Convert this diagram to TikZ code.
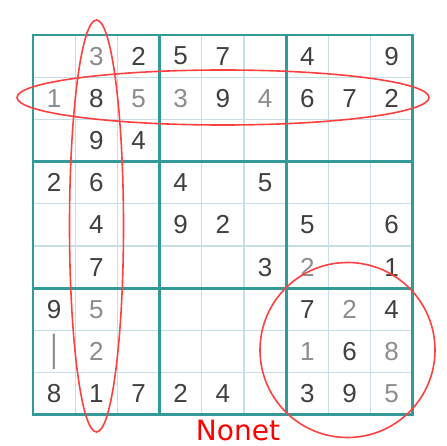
\documentclass[tikz,border=0pt]{standalone}
\usepackage{fontspec}
\setmainfont{Liberation Sans}
\newfontfamily\nonetfont{DejaVu Sans}
\begin{document}
\begin{tikzpicture}[x=1pt,y=-1pt,
  thinline/.style={draw=cyan!25!teal!25, line width=1.3pt},
  thickline/.style={draw=teal!80!white, line width=2.8pt},
  dk/.style={text=black!75, font=\fontsize{26}{26}\selectfont, inner sep=0pt},
  lt/.style={text=black!45, font=\fontsize{26}{26}\selectfont, inner sep=0pt},
  redmark/.style={draw=red!75!white, line width=1.6pt}]
\useasboundingbox (0,0) rectangle (446,446);
\def\xo{33}\def\yo{35}\def\cs{42.2}
% thin lines
\foreach \i in {1,2,4,5,7,8}{
  \draw[thinline] (\xo+\i*\cs,\yo) -- (\xo+\i*\cs,\yo+9*\cs);
  \draw[thinline] (\xo,\yo+\i*\cs) -- (\xo+9*\cs,\yo+\i*\cs);
}
% thick lines
\foreach \i in {0,3,6,9}{
  \draw[thickline] (\xo+\i*\cs,\yo-1.4) -- (\xo+\i*\cs,\yo+9*\cs+1.4);
  \draw[thickline] (\xo-1.4,\yo+\i*\cs) -- (\xo+9*\cs+1.4,\yo+\i*\cs);
}
% digits: style/row/col/value
\foreach \s/\r/\c/\v in {
  lt/1/2/3, dk/1/3/2, dk/1/4/5, dk/1/5/7, dk/1/7/4, dk/1/9/9,
  lt/2/1/1, dk/2/2/8, lt/2/3/5, lt/2/4/3, dk/2/5/9, lt/2/6/4, dk/2/7/6, dk/2/8/7, dk/2/9/2,
  dk/3/2/9, dk/3/3/4,
  dk/4/1/2, dk/4/2/6, dk/4/4/4, dk/4/6/5,
  dk/5/2/4, dk/5/4/9, dk/5/5/2, dk/5/7/5, dk/5/9/6,
  dk/6/2/7, dk/6/6/3, lt/6/7/2, dk/6/9/1,
  dk/7/1/9, lt/7/2/5, dk/7/7/7, lt/7/8/2, dk/7/9/4,
  lt/8/2/2, lt/8/7/1, dk/8/8/6, lt/8/9/8,
  dk/9/1/8, dk/9/2/1, dk/9/3/7, dk/9/4/2, dk/9/5/4, dk/9/7/3, dk/9/8/9, lt/9/9/5}{
  \node[\s] (d\r\c) at (\xo+\c*\cs-0.5*\cs, \yo+\r*\cs-0.5*\cs) {\v};
}
\node[lt] (d81) at (\xo+0.5*\cs, \yo+7.5*\cs) {\scalebox{1}[1.45]{|}};
% red marks
\draw[redmark] (96.5,226) ellipse [x radius=27, y radius=206];
\draw[redmark] (223,97.5) ellipse [x radius=206, y radius=27.5];
\draw[redmark] (347.5,350) circle [radius=87.5];
\node[text=red, font=\nonetfont\fontsize{28}{28}\selectfont, inner sep=0pt] (nonet) at (238,430) {Nonet};
\end{tikzpicture}
\end{document}
